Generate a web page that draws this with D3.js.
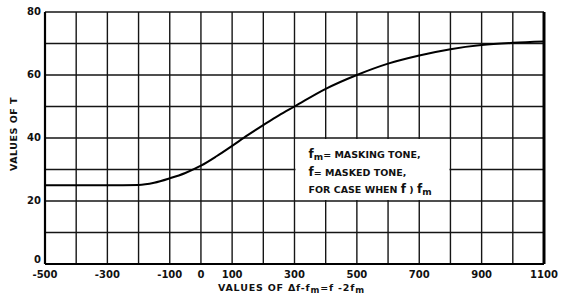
<!DOCTYPE html>
<html>
<head>
<meta charset="utf-8">
<script src="https://cdn.jsdelivr.net/npm/d3@7"></script>
<style>
  body { margin: 0; background: #fff; }
  text { font-family: "DejaVu Sans", sans-serif; font-weight: bold; fill: #111; }
</style>
</head>
<body>
<div id="chart"></div>
<script>
// values of T against delta f
var deltaF = [-500, -400, -300, -200, -150, -100, -50, 0, 50, 100, 150, 200, 250, 300, 400, 500, 600, 700, 800, 900, 1000, 1100];
var tValues = [25, 25, 25, 25.1, 25.8, 27.2, 28.9, 31.2, 34.2, 37.5, 40.9, 44.1, 47.2, 50, 55.6, 60, 63.6, 66.2, 68.2, 69.5, 70.2, 70.6];

var xTickLabels = [-500, -300, -100, 0, 100, 300, 500, 700, 900, 1100];
var yTickLabels = [0, 20, 40, 60, 80];
var xGrid = d3.range(-500, 1101, 100);
var yGrid = d3.range(0, 81, 10);

var legendLines = ["MASKING TONE,", "MASKED TONE,", "FOR CASE WHEN f"];

var width = 563, height = 302,
    margin = { top: 12, right: 19, bottom: 38, left: 45 };
var w = width - margin.left - margin.right,
    h = height - margin.top - margin.bottom;

var svg = d3.select("#chart").append("svg")
    .attr("width", width)
    .attr("height", height)
  .append("g")
    .attr("transform", "translate(" + margin.left + "," + margin.top + ")");

var x = d3.scaleLinear().domain([-500, 1100]).range([0, w]);
var y = d3.scaleLinear().domain([0, 80]).range([h, 0]);

// grid
svg.selectAll(".vgrid").data(xGrid).enter().append("line")
    .attr("x1", function(d){ return x(d); }).attr("x2", function(d){ return x(d); })
    .attr("y1", 0).attr("y2", h)
    .attr("stroke", "#151515").attr("stroke-width", 1.4);
svg.selectAll(".hgrid").data(yGrid).enter().append("line")
    .attr("y1", function(d){ return y(d); }).attr("y2", function(d){ return y(d); })
    .attr("x1", 0).attr("x2", w)
    .attr("stroke", "#151515").attr("stroke-width", 1.4);

// white panel behind the note (300..800, 20..40)
svg.append("rect")
    .attr("x", x(300) + 1).attr("y", y(40) + 1)
    .attr("width", x(800) - x(300) - 2).attr("height", y(20) - y(40) - 2)
    .attr("fill", "#fff");

// frame
svg.append("line").attr("x1", 0).attr("x2", 0).attr("y1", 0).attr("y2", h)
    .attr("stroke", "#000").attr("stroke-width", 2.2);
svg.append("line").attr("x1", 0).attr("x2", w).attr("y1", h).attr("y2", h)
    .attr("stroke", "#000").attr("stroke-width", 2.2);
svg.append("line").attr("x1", w).attr("x2", w).attr("y1", 0).attr("y2", h)
    .attr("stroke", "#000").attr("stroke-width", 3);

// curve
var line = d3.line()
    .x(function(d, i){ return x(deltaF[i]); })
    .y(function(d){ return y(d); })
    .curve(d3.curveMonotoneX);
svg.append("path").datum(tValues)
    .attr("d", line)
    .attr("fill", "none").attr("stroke", "#000").attr("stroke-width", 2);

// tick labels
svg.selectAll(".xl").data(xTickLabels).enter().append("text")
    .attr("x", function(d){ return x(d); })
    .attr("y", h + 14)
    .attr("text-anchor", "middle")
    .attr("font-size", 10)
    .text(function(d){ return d < 0 ? "-" + Math.abs(d) : d; });
svg.selectAll(".yl").data(yTickLabels).enter().append("text")
    .attr("x", -4)
    .attr("y", function(d){ return d === 0 ? y(d) - 1 : y(d) + 3; })
    .attr("text-anchor", "end")
    .attr("font-size", 10)
    .text(function(d){ return d; });

// axis titles
svg.append("text")
    .attr("transform", "translate(-28," + (h / 2 - 4) + ") rotate(-90)")
    .attr("text-anchor", "middle")
    .attr("font-size", 9.5)
    .attr("letter-spacing", 0.5)
    .text("VALUES OF T");

var xt = svg.append("text")
    .attr("x", x(290))
    .attr("y", h + 27)
    .attr("text-anchor", "middle")
    .attr("font-size", 9.5)
    .attr("letter-spacing", 0.8);
xt.append("tspan").text("VALUES OF \u0394f-f");
xt.append("tspan").attr("dy", 2).attr("font-size", 8.5).text("m");
xt.append("tspan").attr("dy", -2).text("=f  -2f");
xt.append("tspan").attr("dy", 2).attr("font-size", 8.5).text("m");

// note
var nx = x(300) + 14, ny = y(40) + 20;
var n1 = svg.append("text").attr("x", nx).attr("y", ny).attr("font-size", 9.5);
n1.append("tspan").attr("font-size", 12).text("f");
n1.append("tspan").attr("dy", 2).attr("font-size", 9).text("m");
n1.append("tspan").attr("dy", -2).text("= " + legendLines[0]);

var n2 = svg.append("text").attr("x", nx).attr("y", ny + 18).attr("font-size", 9.5);
n2.append("tspan").attr("font-size", 12).text("f");
n2.append("tspan").text("= " + legendLines[1]);

var n3 = svg.append("text").attr("x", nx).attr("y", ny + 35).attr("font-size", 9.5);
n3.append("tspan").text(legendLines[2].slice(0, -1));
n3.append("tspan").attr("font-size", 12).text("f");
n3.append("tspan").text(" ) ");
n3.append("tspan").attr("font-size", 12).text("f");
n3.append("tspan").attr("dy", 2).attr("font-size", 9).text("m");
</script>
</body>
</html>
